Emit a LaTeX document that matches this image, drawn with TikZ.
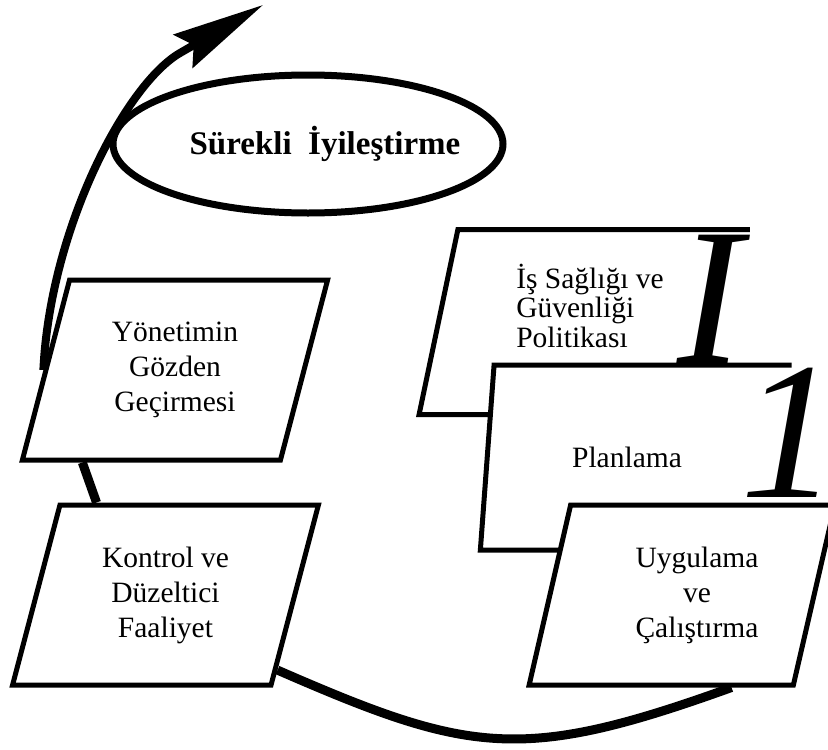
\documentclass[tikz,border=0pt]{standalone}
\usepackage{fontspec}
\setmainfont{Liberation Serif}
\usetikzlibrary{arrows.meta,shapes.geometric,calc}
\tikzset{
  para/.style={
    trapezium, trapezium left angle=73.6, trapezium right angle=106.4,
    trapezium stretches=true, minimum width=306pt, minimum height=180pt,
    inner sep=0pt, fill=white, line width=5pt,
    align=center, font=\fontsize{29.5}{35}\selectfont
  },
  side/.style={line width=5pt},
  oval/.style={
    ellipse, draw, line width=7pt, minimum width=390pt, minimum height=138pt,
    inner sep=0pt, font=\fontsize{33}{33}\selectfont\bfseries
  },
  glyph/.style={anchor=base west, inner sep=0pt, font=\fontsize{196}{196}\selectfont\itshape},
  bigarr/.style={-{Stealth[length=92pt, width=38pt, inset=12pt]}, line width=8pt},
  link/.style={line width=9pt}
}
\begin{document}
\begin{tikzpicture}[x=1pt, y=-1pt]
  \useasboundingbox (0,0) rectangle (828,750);
  \clip (0,0) rectangle (828,750);
  % ellipse
  \node[oval] (surekli) at (308,144) {\makebox[0pt]{\hspace*{34pt}Sürekli\ \ İyileştirme}};
  % left side
  \node[para, draw] (yon) at (175,370) {Yönetimin\\Gözden\\Geçirmesi};
  \node[para, draw] (kon) at (165.5,595) {Kontrol ve\\Düzeltici\\Faaliyet};
  % right stack
  \node[para, trapezium left angle=75.4, trapezium right angle=104.6, minimum width=325pt,
        font=\fontsize{29.5}{29.5}\selectfont] (is) at (584.5,322)
        {\hspace*{11pt}\raisebox{12pt}[\height][\depth]{\begin{tabular}{@{}l@{}}İş Sağlığı ve\\Güvenliği\\Politikası\end{tabular}}};
  \draw[side] (is.top right corner) -- (is.top left corner) -- (is.bottom left corner) -- (is.bottom right corner);
  \node[glyph] (capI) at (677,363) {I};
  \node[para] (plan) at (636,457.5) {Planlama\hspace*{18pt}};
  \draw[side] (plan.top right corner) -- (plan.top left corner) -- (plan.bottom left corner) -- (plan.bottom right corner);
  \node[glyph] (one) at (740,497) {1};
  \node[para, draw] (uyg) at (682,595) {\hspace*{30pt}Uygulama\\\hspace*{30pt}ve\\\hspace*{30pt}Çalıştırma};
  % connectors
  \coordinate (neck) at (180,53);
  \coordinate (tip) at (263,5);
  \draw[bigarr] (yon.west) .. controls (50,230) and (125,85) .. (neck) -- (tip);
  \draw[link] ($(yon.bottom left corner)!0.24!(yon.bottom right corner)$) -- ($(kon.top left corner)!0.146!(kon.top right corner)$);
  \draw[link] ($(kon.bottom right corner)!0.094!(kon.top right corner)$) .. controls (470,754) and (522,763) .. ($(uyg.bottom left corner)!0.763!(uyg.bottom right corner)$);
\end{tikzpicture}
\end{document}
